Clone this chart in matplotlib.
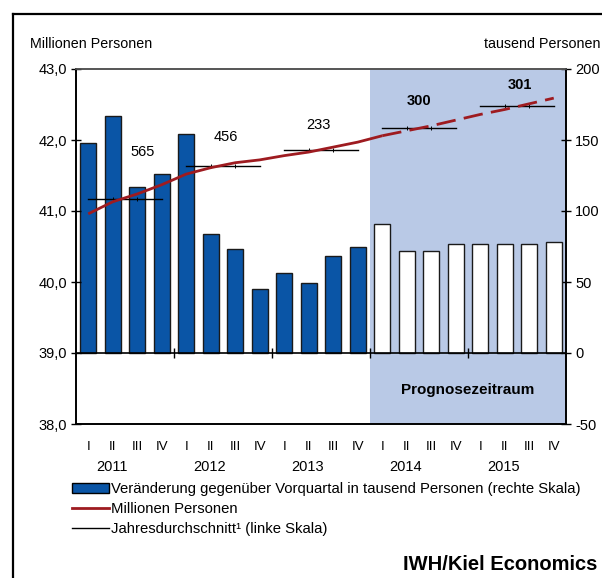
import matplotlib
matplotlib.use("Agg")
import matplotlib.pyplot as plt
from matplotlib.patches import Patch
from matplotlib.lines import Line2D
import numpy as np

plt.rcParams['font.family'] = ['Liberation Sans', 'DejaVu Sans']

years = ['2011', '2012', '2013', '2014', '2015']
quarters = ['I', 'II', 'III', 'IV']
# change vs previous quarter, thousand persons (right scale)
change = [148, 167, 117, 126, 154, 84, 73, 45, 56, 49, 68, 75,
          91, 72, 72, 77, 77, 77, 77, 78]
# employed persons, millions (left scale)
persons = [40.96, 41.13, 41.24, 41.37, 41.52, 41.61, 41.68, 41.72,
           41.78, 41.83, 41.90, 41.97, 42.06, 42.13, 42.20, 42.28,
           42.36, 42.43, 42.51, 42.59]
# annual averages (left scale)
annual_avg = [41.17, 41.63, 41.86, 42.17, 42.48]
annual_change = ['565', '456', '233', '300', '301']
annual_label_x = [2.7, 6.1, 9.9, 14.0, 18.1]
annual_label_y = [41.83, 42.04, 42.21, 42.55, 42.77]
forecast_start = 12

W, H = 602, 578
fig = plt.figure(figsize=(W / 100, H / 100), dpi=100)
L, R, T, B = 76, 566, 69, 424
ax = fig.add_axes([L / W, 1 - B / H, (R - L) / W, (B - T) / H])
ax2 = ax.twinx()

n = len(change)
x = np.arange(n) + 0.5

# right scale (bars) on ax, ticks on right
ax.set_ylim(-50, 200)
ax.set_xlim(0, n)
ax.axvspan(forecast_start, n, color='#B9C9E6', zorder=0, lw=0)
colors = ['#0A55A6' if i < forecast_start else 'white' for i in range(n)]
ax.bar(x, change, width=0.64, color=colors, edgecolor='#1a1a1a', linewidth=1.0, zorder=2)
ax.axhline(0, color='black', lw=1.2, zorder=3)
bounds = np.arange(4, n, 4)
ax.plot(bounds, np.zeros(len(bounds)), ls='', marker='|', color='black',
        markersize=7, mew=1.0, zorder=3, clip_on=False)

ax.yaxis.tick_right()
ax.set_yticks([-50, 0, 50, 100, 150, 200])
ax.set_yticklabels(['-50', '0', '50', '100', '150', '200'])
ax.tick_params(axis='y', direction='inout', length=7, width=1.0, labelsize=10.5, pad=3)

# quarter labels
ax.set_xticks(x)
ax.set_xticklabels(quarters * len(years), fontsize=9.5,
                   family=['Liberation Sans Narrow', 'Liberation Sans'])
ax.tick_params(axis='x', length=0, pad=12)
for k, yr in enumerate(years):
    ax.text(4 * k + 1.45, -0.12, yr, transform=ax.get_xaxis_transform(),
            ha='center', va='center', fontsize=10.5)

# left scale on ax2
ax2.set_ylim(38, 43)
ax2.yaxis.tick_left()
ax2.set_yticks([38, 39, 40, 41, 42, 43])
ax2.set_yticklabels(['38,0', '39,0', '40,0', '41,0', '42,0', '43,0'])
ax2.tick_params(axis='y', direction='inout', length=7, width=1.0, labelsize=10.5, pad=3)

red = '#9E1B20'
ax2.plot(x[:forecast_start + 1], persons[:forecast_start + 1], color=red, lw=2.0,
         solid_capstyle='butt', zorder=5)
ax2.plot(x[forecast_start:], persons[forecast_start:], color=red, lw=2.0,
         dashes=(7, 3), zorder=5)

for k, avg in enumerate(annual_avg):
    xs = x[4 * k:4 * k + 4]
    ax2.plot(xs, [avg] * 4, color='black', lw=1.0, marker='|', markersize=3,
             mew=0.7, markevery=[1, 2], zorder=4)
    bold = k >= 3
    ax2.text(annual_label_x[k], annual_label_y[k], annual_change[k], ha='center',
             va='center', fontsize=10.5, fontweight='bold' if bold else 'normal')

ax2.text(16.0, 38.48, 'Prognosezeitraum', ha='center', va='center', fontsize=11,
         fontweight='bold')

for a in (ax, ax2):
    a.spines['top'].set_color('#555555')
    for s in ('left', 'right', 'bottom', 'top'):
        a.spines[s].set_linewidth(1.2)

fig.text(30 / W, 1 - 44 / H, 'Millionen Personen', fontsize=10.3, va='center', ha='left')
fig.text(484 / W, 1 - 44 / H, 'tausend Personen', fontsize=10.3, va='center', ha='left')

handles = [Patch(facecolor='#0A55A6', edgecolor='black', linewidth=1.0),
           Line2D([], [], color=red, lw=2.0),
           Line2D([], [], color='black', lw=1.0)]
labels = ['Veränderung gegenüber Vorquartal in tausend Personen (rechte Skala)',
          'Millionen Personen',
          'Jahresdurchschnitt\u00b9 (linke Skala)']
fig.legend(handles, labels, loc='upper left', bbox_to_anchor=(72 / W, 1 - 482 / H),
           frameon=False, fontsize=10.7, handlelength=2.5, handleheight=0.7,
           handletextpad=0.15, labelspacing=0.4, borderpad=0, borderaxespad=0)

fig.text(403 / W, 1 - 565 / H, 'IWH/Kiel Economics', fontsize=14.5, fontweight='bold',
         va='center', ha='left')

# outer frame
fig.add_artist(Line2D([13 / W, 1.01], [1 - 13.5 / H] * 2, color='black', lw=1.6,
                      transform=fig.transFigure))
fig.add_artist(Line2D([13 / W] * 2, [-0.01, 1 - 13.5 / H], color='black', lw=1.6,
                      transform=fig.transFigure))

fig.savefig('out.png', dpi=100)
